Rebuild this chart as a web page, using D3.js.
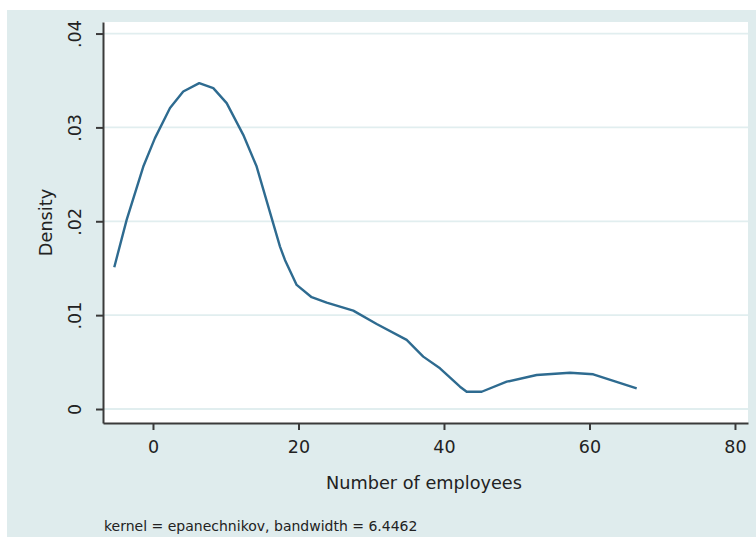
<!DOCTYPE html>
<html>
<head>
<meta charset="utf-8">
<script src="https://cdn.jsdelivr.net/npm/d3@7"></script>
<style>
  html, body { margin: 0; padding: 0; background: #ffffff; }
  svg { display: block; font-family: "DejaVu Sans", sans-serif; }
</style>
</head>
<body>
<svg id="chart" width="756" height="537"></svg>
<script>
// Kernel density estimate of firm size (number of employees)
const employees = [-5.32, -3.62, -1.33, 0.27, 2.34, 4.16, 6.36, 8.29, 10.13, 12.41, 14.25,
  17.46, 18.14, 19.75, 21.81, 23.88, 27.53, 30.75, 34.87, 37.15, 39.45, 42.20, 43.12,
  45.18, 48.62, 52.74, 57.32, 60.52, 66.49];
const density = [0.01511, 0.02015, 0.02583, 0.02886, 0.03206, 0.03383, 0.03472, 0.03419,
  0.03259, 0.02921, 0.02583, 0.01730, 0.01588, 0.01322, 0.01191, 0.01133, 0.01048,
  0.00906, 0.00736, 0.00558, 0.00434, 0.00238, 0.00184, 0.00184, 0.00291, 0.00362,
  0.00387, 0.00370, 0.00221];

const xTicks = [0, 20, 40, 60, 80];
const yTicks = [0, 0.01, 0.02, 0.03, 0.04];
const yTickLabels = ["0", ".01", ".02", ".03", ".04"];

const xTitle = "Number of employees";
const yTitle = "Density";
const note = "kernel = epanechnikov, bandwidth = 6.4462";

const W = 756, H = 537;
const plot = { left: 103, right: 748, top: 22, bottom: 423 };

const svg = d3.select("#chart");

// graph region
svg.append("rect")
  .attr("x", 7).attr("y", 10)
  .attr("width", W - 7).attr("height", H - 10)
  .attr("fill", "#dfeced");

// plot region
svg.append("rect")
  .attr("x", plot.left).attr("y", plot.top)
  .attr("width", plot.right - plot.left).attr("height", plot.bottom - plot.top)
  .attr("fill", "#ffffff");

const x = d3.scaleLinear().domain([-6.87, 81.79]).range([plot.left, plot.right]);
const y = d3.scaleLinear().domain([-0.00149, 0.04123]).range([plot.bottom, plot.top]);

// horizontal grid
svg.append("g")
  .selectAll("line")
  .data(yTicks)
  .join("line")
  .attr("x1", plot.left).attr("x2", plot.right)
  .attr("y1", d => y(d)).attr("y2", d => y(d))
  .attr("stroke", "#e1eeef")
  .attr("stroke-width", 1.8);

// density curve
const line = d3.line()
  .x((d, i) => x(employees[i]))
  .y(d => y(d));

svg.append("path")
  .datum(density)
  .attr("d", line)
  .attr("fill", "none")
  .attr("stroke", "#2e6b90")
  .attr("stroke-width", 2.4)
  .attr("stroke-linejoin", "round");

// y axis
const yAxis = svg.append("g")
  .attr("transform", `translate(${plot.left},0)`)
  .call(d3.axisLeft(y).tickValues(yTicks)
    .tickFormat((d, i) => yTickLabels[i])
    .tickSize(7).tickSizeOuter(0));
yAxis.select(".domain").attr("stroke", "#3a3a3a").attr("stroke-width", 2);
yAxis.selectAll(".tick line").attr("stroke", "#3a3a3a").attr("stroke-width", 2);
yAxis.selectAll(".tick text")
  .attr("transform", "rotate(-90)")
  .attr("x", 0).attr("y", -22).attr("dy", 0)
  .attr("text-anchor", "middle")
  .attr("font-size", 17.5)
  .attr("font-family", "DejaVu Sans, sans-serif")
  .attr("fill", "#222");

// x axis
const xAxis = svg.append("g")
  .attr("transform", `translate(0,${plot.bottom})`)
  .call(d3.axisBottom(x).tickValues(xTicks)
    .tickSize(7).tickSizeOuter(0));
xAxis.select(".domain").attr("stroke", "#3a3a3a").attr("stroke-width", 2);
xAxis.selectAll(".tick line").attr("stroke", "#3a3a3a").attr("stroke-width", 2);
xAxis.selectAll(".tick text")
  .attr("y", 30).attr("dy", 0)
  .attr("font-size", 17.5)
  .attr("font-family", "DejaVu Sans, sans-serif")
  .attr("fill", "#222");

// axis titles
svg.append("text")
  .attr("x", (plot.left + plot.right) / 2 - 1.5)
  .attr("y", 489)
  .attr("text-anchor", "middle")
  .attr("font-size", 17.7)
  .attr("fill", "#222")
  .text(xTitle);

svg.append("text")
  .attr("transform", `translate(52,${(plot.top + plot.bottom) / 2}) rotate(-90)`)
  .attr("text-anchor", "middle")
  .attr("font-size", 17.7)
  .attr("fill", "#222")
  .text(yTitle);

// note
svg.append("text")
  .attr("x", 104).attr("y", 531)
  .attr("font-size", 14)
  .attr("fill", "#222")
  .text(note);
</script>
</body>
</html>
